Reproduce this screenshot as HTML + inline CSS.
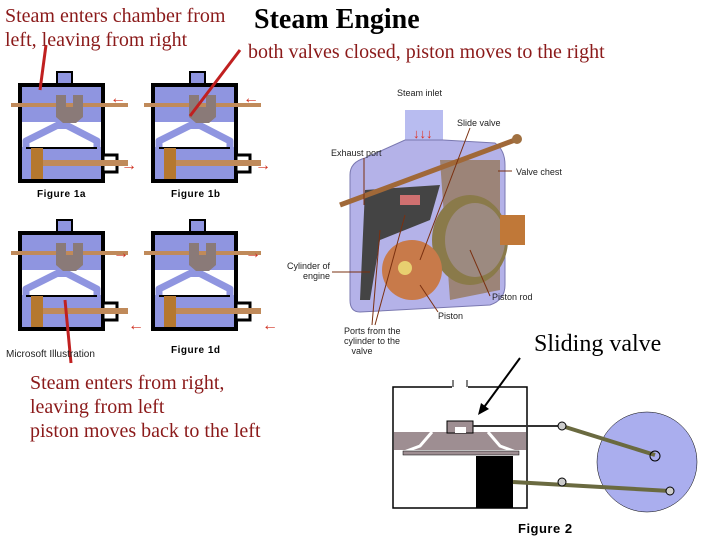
<!DOCTYPE html>
<html><head><style>
body{margin:0;width:720px;height:540px;background:#fff;overflow:hidden;position:relative;font-family:"Liberation Serif",serif}
.t{position:absolute;color:#8b1a1a;font-size:20px;line-height:24px;white-space:nowrap}
.s{font-family:"Liberation Sans",sans-serif;font-size:9px;color:#222;position:absolute;white-space:nowrap;line-height:10px}
.fig{font-family:"Liberation Sans",sans-serif;font-weight:bold;font-size:10px;position:absolute;letter-spacing:0.5px}
</style></head><body>
<svg width="720" height="540" style="position:absolute;left:0;top:0">
<defs>
<g id="cyl">
 <rect x="37" y="-13" width="15" height="16" fill="#8f95e0" stroke="#000" stroke-width="2"/>
 <rect x="0" y="0" width="83" height="96" fill="#8f95e0" stroke="#000" stroke-width="4"/>
 <rect x="2" y="37" width="79" height="25" fill="#fff"/>
 <path d="M6 62 L6 56 L38 40 L46 40 L77 56 L77 62" stroke="#8f95e0" stroke-width="7" fill="none" stroke-linejoin="round"/>
 <path d="M17 62 L40 48 L44 48 L66 62 Z" fill="#fff"/>
 <rect x="36" y="36" width="12" height="8" fill="#8f95e0"/>
 <path d="M6 62 L77 62 L77 64 L6 64 Z" fill="#000"/>
 <rect x="83" y="70" width="14" height="17" fill="#fff" stroke="#000" stroke-width="3"/>
 <rect x="-9" y="18" width="117" height="4" fill="#c08a5a"/>
 <path d="M36 10 L46 10 L46 22 L53 22 L53 10 L63 10 L63 32 L56 38 L43 38 L36 32 Z" fill="#8a7a78"/>
 <rect x="11" y="63" width="12" height="31" fill="#b5782f"/>
 <rect x="23" y="75" width="85" height="6" fill="#c08a5a"/>
</g>
</defs>
<use href="#cyl" x="20" y="85"/>
<use href="#cyl" x="153" y="85"/>
<use href="#cyl" x="20" y="233"/>
<use href="#cyl" x="153" y="233"/>
<g fill="#d03020" font-size="16" font-weight="bold">
<text x="110" y="103">←</text><text x="243" y="103">←</text>
<text x="121" y="170">→</text><text x="255" y="170">→</text>
<text x="113" y="258">→</text><text x="245" y="258">→</text>
<text x="128" y="330">←</text><text x="262" y="330">←</text>
</g>
<g stroke="#c02020" stroke-width="3">
<line x1="46" y1="45" x2="40" y2="90"/>
<line x1="240" y1="50" x2="190" y2="116"/>
<line x1="71" y1="363" x2="65" y2="300"/>
</g>
<!-- engine -->
<rect x="405" y="110" width="38" height="40" fill="#b8bcf0"/>
<path d="M365 158 L405 140 L443 140 L495 143 Q505 150 505 165 L505 285 Q505 300 490 305 L360 312 Q350 312 350 300 L350 175 Q350 162 365 158 Z" fill="#b4b2e8" stroke="#7a78b0"/>
<path d="M440 160 L500 160 L500 290 L450 300 Z" fill="#9c8478"/>
<ellipse cx="470" cy="240" rx="38" ry="45" fill="#8a7a4a"/>
<ellipse cx="475" cy="240" rx="30" ry="37" fill="#9c8a80"/>
<path d="M365 190 L440 185 L430 220 L380 240 L370 300 L360 300 Z" fill="#444"/>
<circle cx="412" cy="270" r="30" fill="#c87a4a"/>
<circle cx="405" cy="268" r="7" fill="#e8d070"/>
<rect x="500" y="215" width="25" height="30" fill="#c07838"/>
<line x1="340" y1="205" x2="515" y2="140" stroke="#a06838" stroke-width="5"/>
<circle cx="517" cy="139" r="5" fill="#a07040"/>
<rect x="400" y="195" width="20" height="10" fill="#d07070"/>
<g fill="#e03020" font-size="13"><text x="413" y="138">↓↓↓</text></g>
<g stroke="#7a3010" stroke-width="1">
<line x1="364" y1="158" x2="364" y2="205"/>
<line x1="470" y1="128" x2="420" y2="260"/>
<line x1="512" y1="171" x2="498" y2="171"/>
<line x1="332" y1="272" x2="370" y2="272"/>
<line x1="490" y1="296" x2="470" y2="250"/>
<line x1="438" y1="312" x2="420" y2="285"/>
<line x1="372" y1="325" x2="380" y2="230"/>
<line x1="375" y1="325" x2="405" y2="215"/>
</g>
<!-- figure 2 -->
<rect x="393" y="387" width="134" height="121" fill="#fff" stroke="#000" stroke-width="1.5"/>
<rect x="452" y="380" width="16" height="9" fill="#fff"/>
<line x1="453" y1="380" x2="453" y2="387" stroke="#000"/><line x1="467" y1="380" x2="467" y2="387" stroke="#000"/>
<rect x="394" y="432" width="132" height="18" fill="#9e8e92"/>
<path d="M432 432 L420 446 L404 452" stroke="#fff" stroke-width="3" fill="none"/>
<path d="M488 432 L500 446 L516 452" stroke="#fff" stroke-width="3" fill="none"/>
<rect x="403" y="451" width="116" height="4" fill="#9e8e92" stroke="#000" stroke-width="0.5"/>
<rect x="447" y="421" width="26" height="12" fill="#9e8e92" stroke="#000"/>
<rect x="455" y="427" width="11" height="6" fill="#fff"/>
<rect x="476" y="456" width="37" height="52" fill="#000"/>
<circle cx="647" cy="462" r="50" fill="#aaaeee" stroke="#000" stroke-width="0.5"/>
<line x1="473" y1="426" x2="560" y2="426" stroke="#333" stroke-width="2"/>
<line x1="562" y1="426" x2="655" y2="455" stroke="#6a6a40" stroke-width="4"/>
<line x1="513" y1="482" x2="670" y2="491" stroke="#6a6a40" stroke-width="4"/>
<circle cx="562" cy="426" r="4" fill="#ccc" stroke="#000"/>
<circle cx="562" cy="482" r="4" fill="#ccc" stroke="#000"/>
<circle cx="670" cy="491" r="4" fill="#ccc" stroke="#000"/>
<circle cx="655" cy="456" r="5" fill="none" stroke="#000"/>
<line x1="520" y1="358" x2="482" y2="410" stroke="#000" stroke-width="2"/>
<path d="M478 415 L481 403 L489 409 Z" fill="#000"/>
</svg>
<div class="t" style="left:5px;top:4px">Steam enters chamber from<br>left, leaving from right</div>
<div style="position:absolute;left:254px;top:4px;font-size:28px;font-weight:bold">Steam Engine</div>
<div class="t" style="left:248px;top:40px">both valves closed, piston moves to the right</div>
<div style="position:absolute;left:534px;top:331px;font-size:24px">Sliding valve</div>
<div class="t" style="left:30px;top:371px">Steam enters from right,<br>leaving from left<br>piston moves back to the left</div>
<div class="fig" style="left:37px;top:189px">Figure 1a</div>
<div class="fig" style="left:171px;top:189px">Figure 1b</div>
<div class="fig" style="left:171px;top:345px">Figure 1d</div>
<div class="fig" style="left:518px;top:521px;font-size:13px">Figure 2</div>
<div class="s" style="left:6px;top:350px;font-size:10px">Microsoft Illustration</div>
<div class="s" style="left:397px;top:88px">Steam inlet</div>
<div class="s" style="left:457px;top:118px">Slide valve</div>
<div class="s" style="left:331px;top:148px">Exhaust port</div>
<div class="s" style="left:516px;top:167px">Valve chest</div>
<div class="s" style="left:287px;top:261px;text-align:right">Cylinder of<br>&nbsp;&nbsp;&nbsp;engine</div>
<div class="s" style="left:492px;top:292px">Piston rod</div>
<div class="s" style="left:438px;top:311px">Piston</div>
<div class="s" style="left:344px;top:326px">Ports from the<br>cylinder to the<br>&nbsp;&nbsp;&nbsp;valve</div>
</body></html>
